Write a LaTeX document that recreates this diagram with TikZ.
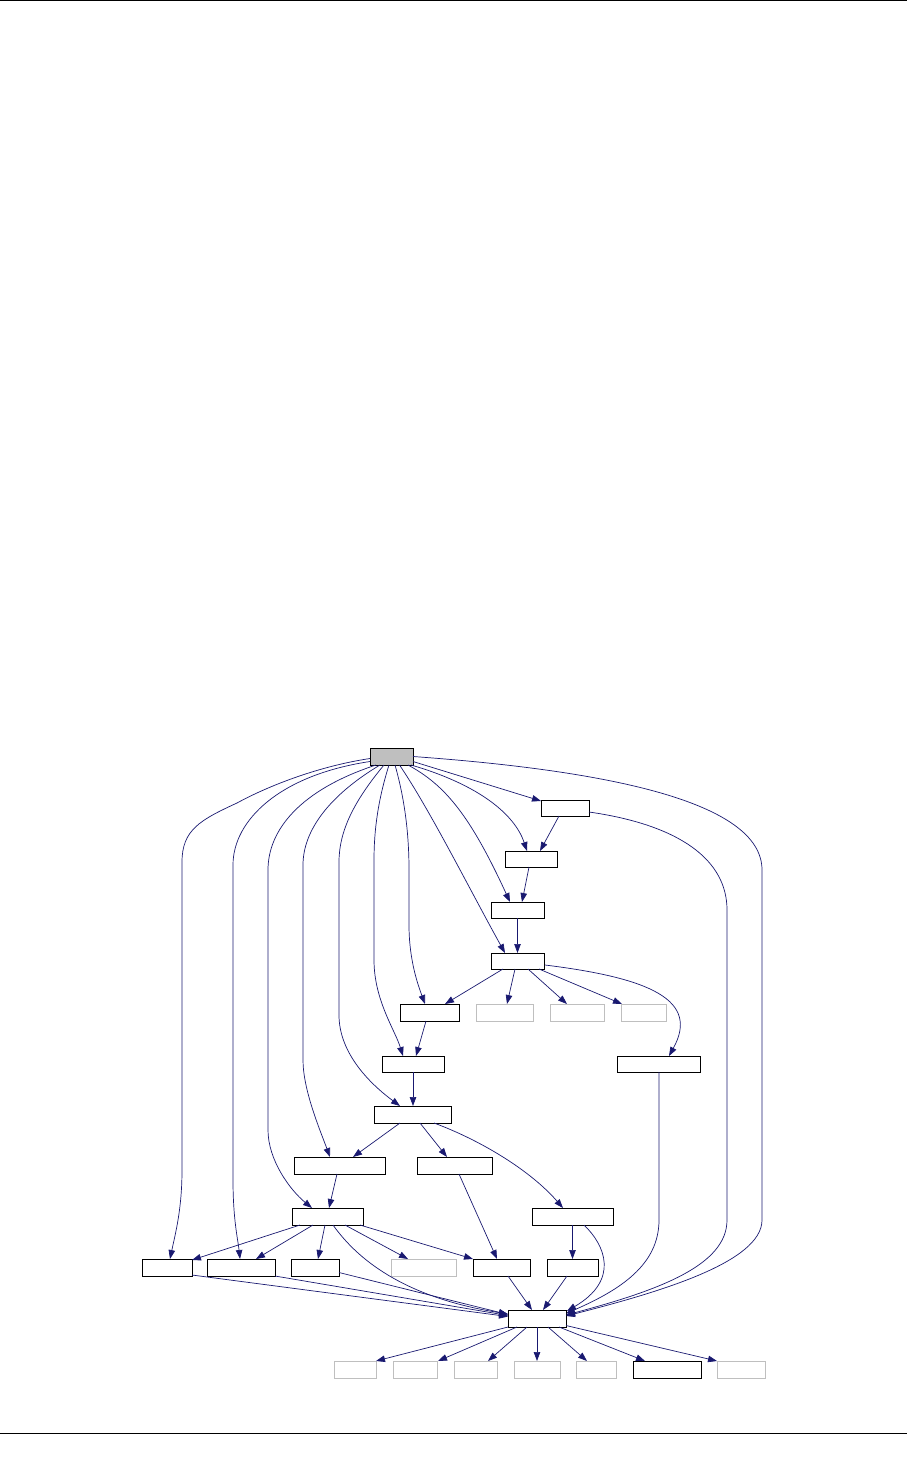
\documentclass[tikz,border=0pt]{standalone}
\usetikzlibrary{arrows.meta,calc}
\definecolor{edgeblue}{RGB}{25,25,112}
\definecolor{boxgray}{RGB}{191,191,191}
\tikzset{
  bx/.style={draw=black, line width=0.8pt, fill=white, inner sep=0pt, outer sep=0pt},
  gbx/.style={draw=boxgray, line width=0.8pt, fill=white, inner sep=0pt, outer sep=0pt},
  rootbx/.style={draw=black, line width=0.8pt, fill=boxgray, inner sep=0pt, outer sep=0pt},
  edge/.style={draw=edgeblue, line width=0.7pt, -{Triangle[length=9pt,width=6.5pt]}},
  rule/.style={draw=black, line width=1pt}
}
\newcommand{\mkbox}[6]{\node[#6, minimum width={(#4-#2)*1pt}, minimum height={(#5-#3)*1pt}] (#1) at ({(#2+#4)/2},{(#3+#5)/2}) {};}
\begin{document}
\begin{tikzpicture}[x=1pt,y=-1pt]
\useasboundingbox (0,0) rectangle (908,1463);
\coordinate (tl) at (0,1); \coordinate (tr) at (907,1);
\coordinate (bl) at (0,1433); \coordinate (br) at (907,1433);
\draw[rule] (tl) -- (tr);
\draw[rule] (bl) -- (br);
% nodes
\mkbox{root}{370}{748}{413}{765}{rootbx}
\mkbox{A}{541}{800}{589}{816}{bx}
\mkbox{B}{505}{851}{557}{867}{bx}
\mkbox{C}{491}{902}{544}{918}{bx}
\mkbox{D}{491}{953}{544}{969}{bx}
\mkbox{E}{400}{1004}{459}{1021}{bx}
\mkbox{G1}{476}{1004}{533}{1021}{gbx}
\mkbox{G2}{550}{1004}{604}{1021}{gbx}
\mkbox{G3}{621}{1004}{666}{1021}{gbx}
\mkbox{F}{382}{1056}{444}{1072}{bx}
\mkbox{H}{617}{1056}{700}{1072}{bx}
\mkbox{I}{374}{1106}{451}{1123}{bx}
\mkbox{J}{294}{1157}{385}{1174}{bx}
\mkbox{K}{417}{1157}{492}{1174}{bx}
\mkbox{L}{292}{1208}{363}{1225}{bx}
\mkbox{M}{532}{1208}{613}{1225}{bx}
\mkbox{N1}{142}{1259}{192}{1276}{bx}
\mkbox{N2}{207}{1259}{275}{1276}{bx}
\mkbox{N3}{291}{1259}{339}{1276}{bx}
\mkbox{N4}{391}{1259}{456}{1276}{gbx}
\mkbox{N5}{473}{1259}{530}{1276}{bx}
\mkbox{N6}{547}{1259}{598}{1276}{bx}
\mkbox{Hub}{508}{1310}{566}{1327}{bx}
\mkbox{BB1}{334}{1361}{376}{1378}{gbx}
\mkbox{BB2}{393}{1361}{437}{1378}{gbx}
\mkbox{BB3}{454}{1361}{497}{1378}{gbx}
\mkbox{BB4}{514}{1361}{560}{1378}{gbx}
\mkbox{BB5}{576}{1361}{616}{1378}{gbx}
\mkbox{BB6}{633}{1361}{701}{1378}{bx}
\mkbox{BB7}{717}{1361}{765}{1378}{gbx}
% edges from root
\draw[edge] ($(root.east)+(0,5)$) -- ($(A.north west)+(0,1)$);
\draw[edge] ($(root.south east)+(-2,0)$) .. controls (480,785) and (515,815) .. ($(B.north)+(-4,0)$);
\draw[edge] ($(root.south east)+(-5,0)$) .. controls (445,785) and (470,815) .. ($(C.north)+(-7.5,0)$);
\draw[edge] ($(root.south)+(8,0)$) .. controls (430,810) and (470,890) .. ($(D.north)+(-12.5,0)$);
\draw[edge] ($(root.south)+(3.5,0)$) .. controls (405,800) and (409,835) .. (409,870) -- (409,925) .. controls (409,960) and (418,985) .. ($(E.north)+(-4.5,0)$);
\draw[edge] ($(root.south)+(-2.5,0)$) .. controls (378,800) and (374,830) .. (374,860) -- (374,960) .. controls (374,1000) and (395,1030) .. ($(F.north)+(-10,0)$);
\draw[edge] ($(root.south)+(-7.5,0)$) .. controls (355,800) and (339,830) .. (339,862) -- (339,1015) .. controls (339,1050) and (365,1080) .. ($(I.north)+(-12.5,0)$);
\draw[edge] ($(root.south west)+(10,0)$) .. controls (330,795) and (303,830) .. (303,865) -- (303,1060) .. controls (303,1090) and (320,1130) .. ($(J.north)+(-9.5,0)$);
\draw[edge] ($(root.south west)+(6,0)$) .. controls (300,790) and (268,830) .. (268,870) -- (268,1130) .. controls (268,1160) and (290,1190) .. ($(L.north)+(-15.5,0)$);
\draw[edge] ($(root.west)+(0,5)$) .. controls (280,775) and (233,820) .. (233,865) -- (233,1180) .. controls (233,1220) and (238,1240) .. ($(N2.north)+(-1,0)$);
\draw[edge] ($(root.west)+(0,2)$) .. controls (320,766) and (270,785) .. (237,803) .. controls (200,820) and (182,830) .. (182,862) -- (182,1170) .. controls (182,1210) and (175,1235) .. ($(N1.north)+(3,0)$);
\draw[edge] (root.east) .. controls (600,770) and (762,800) .. (762,870) -- (762,1220) .. controls (762,1262) and (660,1292) .. ($(Hub.east)+(0,-2.5)$);
% chain
\draw[edge] ($(A.south)+(-6,0)$) -- ($(B.north)+(9,0)$);
\draw[edge] ($(B.south)+(-2,0)$) -- ($(C.north)+(4.5,0)$);
\draw[edge] (C.south) -- (D.north);
\draw[edge] ($(A.east)+(0,4)$) .. controls (680,825) and (727,860) .. (727,910) -- (727,1220) .. controls (727,1265) and (660,1290) .. ($(Hub.east)+(0,-3.5)$);
% D children
\draw[edge] ($(D.south)+(-14.5,0)$) -- ($(E.north)+(15.5,0)$);
\draw[edge] ($(D.south)+(-2.5,0)$) -- ($(G1.north)+(2.5,0)$);
\draw[edge] ($(D.south)+(10.5,0)$) -- ($(G2.north)+(-10,0)$);
\draw[edge] ($(D.south)+(21.5,0)$) -- ($(G3.north west)+(1,0)$);
\draw[edge] ($(D.east)+(1,4)$) .. controls (650,978) and (700,1000) .. ($(H.north)+(10.5,0)$);
\draw[edge] ($(E.south)+(-3.5,0)$) -- ($(F.north)+(3,0)$);
\draw[edge] (F.south) -- ($(I.north)+(0.5,0)$);
% I children
\draw[edge] ($(I.south)+(-12.5,0)$) -- ($(J.north)+(13.5,0)$);
\draw[edge] ($(I.south)+(7.5,0)$) -- ($(K.north)+(-7.5,0)$);
\draw[edge] ($(I.south east)+(-17,0)$) .. controls (480,1140) and (530,1170) .. ($(M.north)+(-9.5,0)$);
\draw[edge] ($(J.south)+(-2.5,0)$) -- ($(L.north)+(1.5,0)$);
% L children
\draw[edge] ($(L.south west)+(8,0)$) -- ($(N1.north east)+(0,1)$);
\draw[edge] ($(L.south)+(-14.5,0)$) -- ($(N2.north)+(15,0)$);
\draw[edge] ($(L.south)+(-2.5,0)$) -- ($(N3.north)+(3,0)$);
\draw[edge] ($(L.south)+(17.5,0)$) -- ($(N4.north)+(-15.5,0)$);
\draw[edge] ($(L.south east)+(-3,0)$) -- (N5.north west);
\draw[edge] ($(L.south)+(5.5,0)$) .. controls (365,1270) and (420,1300) .. ($(Hub.west)+(0,-4.5)$);
\draw[edge] ($(K.south)+(4.5,0)$) -- ($(N5.north)+(-4.5,0)$);
\draw[edge] (M.south) -- (N6.north);
\draw[edge] ($(M.south)+(11.5,0)$) .. controls (605,1245) and (620,1280) .. ($(Hub.north east)+(1,1)$);
\draw[edge] ($(H.south)+(0.5,0)$) -- (659,1220) .. controls (659,1265) and (620,1290) .. ($(Hub.east)+(0,-5)$);
% into hub
\draw[edge] ($(N1.south east)+(0,-1)$) -- ($(Hub.west)+(0,-2)$);
\draw[edge] (N2.south east) -- ($(Hub.west)+(0,-3)$);
\draw[edge] ($(N3.east)+(0,5)$) -- ($(Hub.west)+(0,-4)$);
\draw[edge] ($(N5.south)+(6.5,0)$) -- ($(Hub.north)+(-5,0)$);
\draw[edge] ($(N6.south)+(-5.5,0)$) -- ($(Hub.north)+(6,0)$);
% hub children
\draw[edge] (Hub.south west) -- (BB1.north east);
\draw[edge] ($(Hub.south west)+(9,0)$) -- ($(BB2.north east)+(1,0)$);
\draw[edge] ($(Hub.south)+(-10,0)$) -- ($(BB3.north)+(12.5,0)$);
\draw[edge] (Hub.south) -- (BB4.north);
\draw[edge] ($(Hub.south)+(11,0)$) -- ($(BB5.north)+(-9,0)$);
\draw[edge] ($(Hub.south)+(22,0)$) -- ($(BB6.north)+(-22,0)$);
\draw[edge] ($(Hub.east)+(0,7)$) -- (BB7.north west);
\end{tikzpicture}
\end{document}
